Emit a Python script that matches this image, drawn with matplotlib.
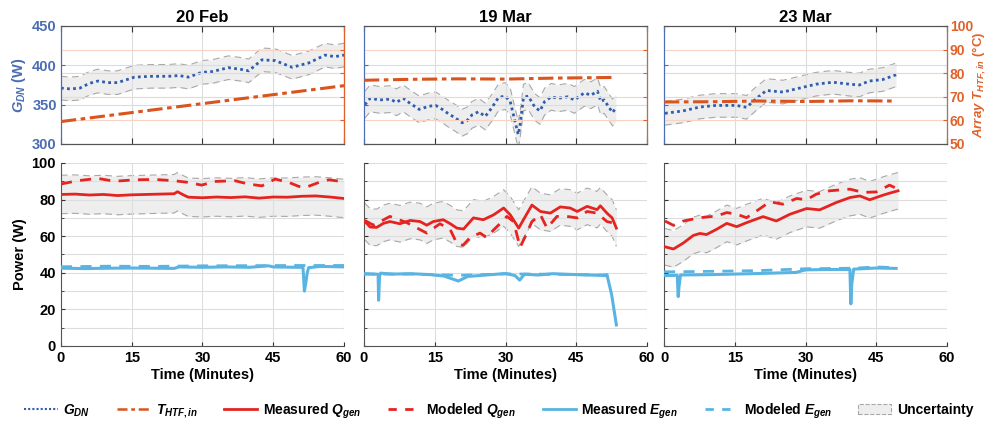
import matplotlib.pyplot as plt
from matplotlib.lines import Line2D
from matplotlib.patches import Patch
from matplotlib.ticker import MultipleLocator

plt.rcParams['font.family'] = ['Liberation Sans', 'DejaVu Sans']
plt.rcParams['font.weight'] = 'bold'
plt.rcParams['axes.labelweight'] = 'bold'
plt.rcParams['mathtext.fontset'] = 'custom'
plt.rcParams['mathtext.it'] = 'Liberation Sans:italic:bold'
plt.rcParams['mathtext.rm'] = 'Liberation Sans:bold'
plt.rcParams['mathtext.default'] = 'it'

days = ['20 Feb', '19 Mar', '23 Mar']

# ---- top row: direct normal irradiance (W) and array inlet temperature (C)
feb_g_t = [0, 2, 4, 6, 7.8, 10, 12, 15.6, 19, 22.7, 25, 27, 29.8, 32, 35.5, 38, 39.8, 42.6, 45.4, 49, 52.5, 56, 58, 60]
feb_g = [371, 370, 371, 377, 380, 378, 378, 385, 386, 386, 387, 385, 391, 392, 397, 395, 393, 407, 406, 397.5, 403, 413, 411, 413]
mar19_g_t = [0.2, 1.3, 3.4, 5.5, 6.9, 8.3, 9.7, 11.7, 13.8, 15.2, 16.6, 18, 19.4, 20.8, 21.9, 22.9, 24.3, 25.7,
             27.1, 28.5, 29.9, 31, 32, 32.7, 33.1, 33.8, 34.8, 36.2, 37.3, 38.3, 39.7, 41.1, 43.2, 44.6, 46.7,
             48.1, 49.5, 50.2, 50.9, 52, 52.7, 53.4]
mar19_g = [350, 358, 356, 357, 353, 358, 352, 344, 348, 349, 344, 338, 333, 327, 330, 337, 341, 335,
           346, 359, 361, 354, 329, 312, 325, 359, 361, 347, 342, 354, 360, 358, 360, 356, 365,
           362, 367, 354, 356, 346, 340, 346]
mar23_g_t = [0.2, 4, 7.6, 11, 15.3, 17.5, 19.6, 21.7, 25.2, 28.7, 32.2, 35.8, 39.3, 41.4, 43.5, 46.4, 49.2]
mar23_g = [339, 342, 347, 349, 349, 346.6, 358, 368, 366, 371, 376, 378.5, 376, 375, 380, 382, 388]
g_unc = [15, 17, 15]  # half-width of the irradiance uncertainty band (W), per day

feb_T_t = [0, 60]
feb_T = [59.5, 74.7]
mar19_T_t = [0, 10, 20, 30, 40, 53.4]
mar19_T = [77.0, 77.4, 77.6, 77.5, 77.9, 78.2]
mar23_T_t = [0, 10, 20, 30, 40, 49.2]
mar23_T = [67.8, 67.9, 68.2, 68.0, 68.3, 68.2]

# ---- bottom row: thermal (Q) and electrical (E) power (W)
feb_qm_t = [0, 3, 6, 9, 12, 15, 18, 21, 24, 24.7, 26, 27, 30, 33, 36, 39, 42, 45, 48, 51, 54, 57, 60]
feb_qm = [82.8, 83.0, 82.5, 82.8, 82.2, 82.6, 82.8, 83.0, 83.2, 84.3, 82.5, 81.3, 81.0, 81.4, 81.1, 81.5, 80.8, 81.4, 81.3, 81.8, 82.0, 81.4, 80.6]
feb_qs_t = [0, 3.5, 7.8, 11.3, 15.6, 19.9, 24, 27, 29.8, 32.6, 36.9, 39.7, 42.6, 45.4, 48.3, 50.4, 51.8, 54.7, 56.8, 60]
feb_qs = [88.5, 90.3, 91.6, 90.0, 90.8, 91.0, 90.3, 89.4, 87.9, 89.9, 90.3, 88.5, 87.5, 91.2, 89.4, 87.2, 86.6, 89.4, 90.8, 89.7]
feb_em_t = [0, 5, 10, 15, 20, 24, 25, 30, 35, 40, 44, 45, 50, 51.3, 51.6, 51.9, 52.2, 52.5, 55, 60]
feb_em = [42.5, 42.3, 42.5, 42.6, 42.5, 42.4, 43.2, 43.0, 43.2, 43.0, 43.8, 43.2, 43.0, 43.0, 30.0, 34.5, 40.0, 42.8, 43.5, 43.2]
feb_es_t = [0, 10, 20, 30, 40, 50, 60]
feb_es = [43.3, 43.6, 43.5, 43.8, 43.9, 44.0, 44.0]

mar19_qm_t = [0.2, 1.3, 2.7, 4.1, 5.5, 7.6, 9.8, 11.9, 13.3, 14.7, 16.8, 18.3, 19.7, 21.1, 23.2, 25.3, 27.5,
              29.6, 31, 32.8, 33.8, 35.6, 37.4, 39.5, 41.6, 43.7, 45.2, 47.3, 49.4, 50.1, 51.5, 52.6, 53.5]
mar19_qm = [68, 65, 64.8, 67, 68, 66.8, 68.6, 68, 66, 68, 69, 66.8, 64.4, 63.9, 70, 69, 71.7,
            75.4, 71.7, 64.4, 69, 77, 73.5, 72.6, 76, 75.4, 73.5, 76.3, 74.5, 76.6, 72.6, 70, 64.4]
mar19_qs_t = [0.2, 2, 5.5, 9, 13.3, 16.1, 18.3, 19.7, 21, 22.5, 24.6, 26, 27.5, 28.9, 30.3, 31.7, 33.1,
              34.2, 35.6, 37.4, 38.8, 40.9, 43, 45.2, 47.3, 49.4, 51.5, 53.5]
mar19_qs = [68.6, 66, 70.8, 67.5, 61.7, 66.8, 63.5, 56, 55, 59.3, 61.7, 59.3, 63.5, 67, 70.8, 68, 54,
            59.9, 68, 71.7, 64.4, 70.8, 70.8, 70, 73.5, 72.6, 68, 66.8]
mar19_em_t = [0, 3, 3.1, 3.3, 3.5, 6, 10, 14, 17, 20, 22, 25, 30, 32, 33, 34, 37, 40, 45, 50, 51.5, 52.5, 53.5]
mar19_em = [39.5, 39.2, 25, 38, 39.8, 39.3, 39.5, 39.0, 38.2, 35.5, 38.0, 38.6, 39.6, 38.5, 36.0, 39.2, 38.8, 39.5, 39.0, 38.6, 39.0, 28, 11.5]
mar19_es_t = [0, 10, 20, 30, 40, 50, 52.6, 53.4]
mar19_es = [39.3, 39.3, 38.6, 39.4, 39.2, 38.8, 37.8, 37.6]

mar23_qm_t = [0.2, 2, 4.1, 6.2, 7.6, 9, 11.1, 13.3, 15.4, 17.5, 21, 23.8, 26.7, 30.2, 33, 36.5, 39.4, 41.5, 43.6, 46.4, 47.8, 49.6]
mar23_qm = [54.2, 53, 56.3, 60.4, 61.5, 60.9, 63.7, 67, 65.2, 67.4, 70.7, 68.3, 72, 75.1, 74.4, 78.4, 81.1, 82, 79.9, 82.4, 83.5, 84.8]
mar23_qs_t = [0.2, 2, 4.1, 7.6, 11.1, 13.3, 15.4, 17.5, 20.3, 22.4, 25.2, 28.1, 30.2, 32.3, 35.1, 39.4, 42.2, 45, 47.8, 49.6]
mar23_qs = [68.3, 65.9, 68.3, 70.1, 71, 72.9, 72, 70.1, 75, 78.8, 77.5, 80.6, 79.9, 83, 84.8, 85.7, 83.9, 84.2, 87.9, 85.7]
mar23_em_t = [0, 2.8, 3.0, 3.2, 3.5, 10, 20, 28, 30, 35, 39.4, 39.6, 39.8, 40.2, 45, 49.2]
mar23_em = [38.5, 38.6, 27, 33, 38.8, 39.0, 39.6, 40.2, 41.6, 41.8, 41.8, 23, 34, 42.0, 42.6, 42.4]
mar23_es_t = [0, 10, 20, 30, 40, 45, 49.2]
mar23_es = [40.5, 40.8, 41.2, 42.2, 42.5, 43.2, 42.8]
q_unc = [10.5, 10, 10]  # half-width of the thermal power uncertainty band (W), per day

x_ticks = [0, 15, 30, 45, 60]

c_g = '#2F5DAE'
c_gl = '#4A6DB3'
c_t = '#D9541E'
c_tl = '#E0622A'
c_q = '#E52421'
c_e = '#5AB4E2'
c_band = '#EEEEEE'
c_band_edge = '#A8A8A8'
c_spine = '#555555'


def band(ax, t, y, w):
    lo = [v - w for v in y]
    hi = [v + w for v in y]
    ax.fill_between(t, lo, hi, color=c_band, lw=0, zorder=1)
    ax.plot(t, lo, color=c_band_edge, lw=0.8, ls=(0, (6, 4)), zorder=1.5)
    ax.plot(t, hi, color=c_band_edge, lw=0.8, ls=(0, (6, 4)), zorder=1.5)


fig = plt.figure(figsize=(9.88, 4.28), dpi=100)

lefts = [0.0617, 0.3684, 0.6721]
width = 0.2865
top_data = [(feb_g_t, feb_g, feb_T_t, feb_T),
            (mar19_g_t, mar19_g, mar19_T_t, mar19_T),
            (mar23_g_t, mar23_g, mar23_T_t, mar23_T)]
bot_data = [(feb_qm_t, feb_qm, feb_qs_t, feb_qs, feb_em_t, feb_em, feb_es_t, feb_es),
            (mar19_qm_t, mar19_qm, mar19_qs_t, mar19_qs, mar19_em_t, mar19_em, mar19_es_t, mar19_es),
            (mar23_qm_t, mar23_qm, mar23_qs_t, mar23_qs, mar23_em_t, mar23_em, mar23_es_t, mar23_es)]

for i in range(3):
    # ---- top panel
    ax = fig.add_axes([lefts[i], 0.6636, width, 0.2757])
    gt, g, tt, T = top_data[i]
    band(ax, gt, g, g_unc[i])
    ax.plot(gt, g, color=c_g, lw=2.0, ls=(0, (1, 1.2)), zorder=3)
    ax.set_xlim(0, 60)
    ax.set_ylim(300, 450)
    ax.set_xticks(x_ticks)
    ax.set_yticks([300, 350, 400, 450])
    ax.tick_params(axis='x', direction='in', length=4, top=True, labelbottom=False, color='#333333')
    ax.tick_params(axis='y', direction='in', length=3, colors=c_gl, labelsize=10.5, pad=3)
    ax.grid(axis='x', color='#DDDDDD', lw=0.8)
    ax.grid(axis='y', color='#D4DDF0', lw=0.8)
    ax.set_title(days[i], fontsize=12, fontweight='bold', pad=3)
    if i > 0:
        ax.tick_params(axis='y', labelleft=False)
    else:
        ax.set_ylabel(r'$G_{DN}$ (W)', color=c_gl, fontsize=10.5, labelpad=3)
    for s in ['top', 'bottom']:
        ax.spines[s].set_color(c_spine)
    ax.spines['left'].set_color(c_gl)

    ax2 = ax.twinx()
    ax2.plot(tt, T, color=c_t, lw=2.2, ls=(0, (5, 1.5, 1.5, 1.5)), zorder=3)
    ax2.set_ylim(50, 100)
    ax2.set_yticks([50, 60, 70, 80, 90, 100])
    ax2.tick_params(axis='y', direction='in', length=3, colors=c_tl, labelsize=10, pad=2)
    ax2.grid(axis='y', color='#F6D3C2', lw=0.8)
    ax2.spines['right'].set_color(c_tl)
    ax2.spines['left'].set_color(c_gl)
    for s in ['top', 'bottom']:
        ax2.spines[s].set_color(c_spine)
    if i < 2:
        ax2.tick_params(axis='y', labelright=False)
    else:
        ax2.set_ylabel(r'$Array\ T_{HTF,in}$ (°C)', color=c_tl, fontsize=9.5)
        ax2.yaxis.set_label_coords(1.081, 0.5)

    # ---- bottom panel
    bx = fig.add_axes([lefts[i], 0.1916, width, 0.4276])
    qmt, qm, qst, qs, emt, em, est, es = bot_data[i]
    band(bx, qmt, qm, q_unc[i])
    bx.plot(qst, qs, color=c_q, lw=2.0, ls=(0, (4, 3)), zorder=3)
    bx.plot(qmt, qm, color=c_q, lw=2.0, zorder=4)
    bx.plot(est, es, color=c_e, lw=2.0, ls=(0, (4, 3)), zorder=3)
    bx.plot(emt, em, color=c_e, lw=2.2, zorder=4)
    bx.set_xlim(0, 60)
    bx.set_ylim(0, 100)
    bx.set_xticks(x_ticks)
    bx.yaxis.set_major_locator(MultipleLocator(20))
    bx.yaxis.set_minor_locator(MultipleLocator(10))
    bx.grid(which='both', color='#DDDDDD', lw=0.8)
    bx.tick_params(which='both', direction='in', length=3, labelsize=10.5, color='#333333')
    bx.tick_params(which='minor', length=2)
    bx.spines['top'].set_visible(False)
    bx.spines['right'].set_visible(False)
    bx.spines['left'].set_color(c_spine)
    bx.spines['bottom'].set_color(c_spine)
    bx.set_xlabel('Time (Minutes)', fontsize=10.5, labelpad=2)
    if i == 0:
        bx.set_ylabel('Power (W)', fontsize=10.5, labelpad=3)
    else:
        bx.tick_params(axis='y', labelleft=False)

handles = [
    Line2D([], [], color=c_g, lw=1.5, ls=(0, (1, 1))),
    Line2D([], [], color=c_t, lw=1.8, ls=(0, (4, 1.5, 1.5, 1.5))),
    Line2D([], [], color=c_q, lw=2.0),
    Line2D([], [], color=c_q, lw=2.0, ls=(0, (3, 3))),
    Line2D([], [], color=c_e, lw=2.0),
    Line2D([], [], color=c_e, lw=2.0, ls=(0, (3, 3))),
    Patch(facecolor=c_band, edgecolor=c_band_edge, ls='--', lw=0.8),
]
labels = [r'$G_{DN}$', r'$T_{HTF,in}$', r'Measured $Q_{gen}$', r'Modeled $Q_{gen}$',
          r'Measured $E_{gen}$', r'Modeled $E_{gen}$', 'Uncertainty']
fig.legend(handles, labels, loc='center', bbox_to_anchor=(0.505, 0.04), ncol=7, frameon=False,
           fontsize=10, handlelength=2.4, handletextpad=0.4, columnspacing=1.9)

fig.savefig('out.png', dpi=100)
